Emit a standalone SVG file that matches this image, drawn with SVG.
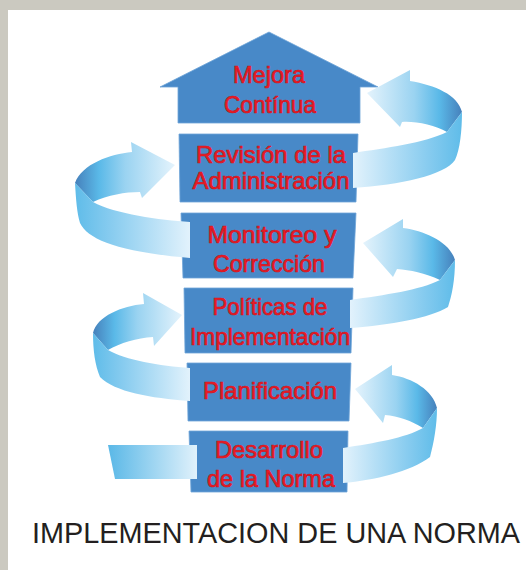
<svg xmlns="http://www.w3.org/2000/svg" width="526" height="570" viewBox="0 0 526 570">
  <defs>
    <style>
      .box { fill: #4889c8; stroke: #6ea5d8; stroke-width: 0.8; }
      .lbl { font-family: "Liberation Sans", Arial, sans-serif; font-size: 24px; fill: #ee1c25; stroke: #d0121c; stroke-width: 0.7; text-anchor: middle; }
      .title { font-family: "Liberation Sans", Arial, sans-serif; font-size: 29px; fill: #231f20; text-anchor: middle; }
    </style>
    <linearGradient id="backR" x1="0" y1="0" x2="1" y2="0">
      <stop offset="0" stop-color="#e4f3fc"/>
      <stop offset="0.5" stop-color="#9ad3f1"/>
      <stop offset="0.76" stop-color="#5ab9e8"/>
      <stop offset="1" stop-color="#4680bb"/>
    </linearGradient>
    <linearGradient id="frontR" x1="0" y1="0" x2="1" y2="0">
      <stop offset="0" stop-color="#e2f2fc"/>
      <stop offset="0.7" stop-color="#86cbef"/>
      <stop offset="1" stop-color="#5fbce9"/>
    </linearGradient>
    <linearGradient id="backL" x1="1" y1="0" x2="0" y2="0">
      <stop offset="0" stop-color="#e4f3fc"/>
      <stop offset="0.5" stop-color="#9ad3f1"/>
      <stop offset="0.76" stop-color="#5ab9e8"/>
      <stop offset="1" stop-color="#4680bb"/>
    </linearGradient>
    <linearGradient id="frontL" x1="1" y1="0" x2="0" y2="0">
      <stop offset="0" stop-color="#e2f2fc"/>
      <stop offset="0.7" stop-color="#86cbef"/>
      <stop offset="1" stop-color="#5fbce9"/>
    </linearGradient>
    <linearGradient id="tail" x1="0" y1="0" x2="1" y2="0">
      <stop offset="0" stop-color="#5ab8e7"/>
      <stop offset="1" stop-color="#e0f1fb"/>
    </linearGradient>
  </defs>

  <rect x="0" y="0" width="526" height="570" fill="#cbc9c0"/>
  <rect x="8" y="10" width="518" height="560" fill="#ffffff"/>

  <g id="node-mejora">
    <polygon class="box" points="269,32 378,87 360,87 360,123 178,123 178,87 160,87"/>
    <text class="lbl" x="269" y="83" textLength="72" lengthAdjust="spacingAndGlyphs">Mejora</text>
    <text class="lbl" x="270" y="113" textLength="92" lengthAdjust="spacingAndGlyphs">Contínua</text>
  </g>
  <g id="node-revision">
    <polygon class="box" points="179,134 358,134 356,202 180,202"/>
    <text class="lbl" x="271" y="163" textLength="150" lengthAdjust="spacingAndGlyphs">Revisión de la</text>
    <text class="lbl" x="271" y="189" textLength="157" lengthAdjust="spacingAndGlyphs">Administración</text>
  </g>
  <g id="node-monitoreo">
    <polygon class="box" points="181,213 356,213 353,278 183,278"/>
    <text class="lbl" x="272" y="243" textLength="129" lengthAdjust="spacingAndGlyphs">Monitoreo y</text>
    <text class="lbl" x="269" y="272" textLength="112" lengthAdjust="spacingAndGlyphs">Corrección</text>
  </g>
  <g id="node-politicas">
    <polygon class="box" points="184,288 353,288 351,353 185,353"/>
    <text class="lbl" x="270" y="315" textLength="115" lengthAdjust="spacingAndGlyphs">Políticas de</text>
    <text class="lbl" x="270" y="345" textLength="160" lengthAdjust="spacingAndGlyphs">Implementación</text>
  </g>
  <g id="node-planificacion">
    <polygon class="box" points="187,363 351,363 349,421 188,421"/>
    <text class="lbl" x="270" y="399" textLength="134" lengthAdjust="spacingAndGlyphs">Planificación</text>
  </g>
  <g id="node-desarrollo">
    <polygon class="box" points="189,431 348,431 347,492 191,492"/>
    <text class="lbl" x="269" y="458" textLength="108" lengthAdjust="spacingAndGlyphs">Desarrollo</text>
    <text class="lbl" x="271" y="487" textLength="128" lengthAdjust="spacingAndGlyphs">de la Norma</text>
  </g>

  <g id="connectors">
    <!-- Desarrollo tail -->
    <polygon fill="url(#tail)" points="108,445 197,445 197,479 115,479"/>
    <!-- Desarrollo -> Planificacion (right) -->
    <path fill="url(#backR)" d="M355,389 L392,365 L392,375 C412,378 433,390 437,408 L423,428 C412,421 398,416 385,415 L383,423 Z"/>
    <path fill="url(#frontR)" d="M343,448 C375,443 405,438 423,428 L437,408 C437,425 434,442 430,457 C410,472 375,480 343,483 Z"/>
    <!-- Planificacion -> Politicas (left) -->
    <path fill="url(#backL)" d="M182,315 L143,293 L144,304 C122,306 97,316 93,333 L108,350 C120,343 137,338 153,337 L154,346 Z"/>
    <path fill="url(#frontL)" d="M190,368 C160,366 125,360 108,350 L93,333 C93,350 95,365 100,377 C115,392 150,398 190,401 Z"/>
    <!-- Politicas -> Monitoreo (right) -->
    <path fill="url(#backR)" d="M363,243 L403,219 L403,228 C425,231 450,242 455,260 L440,280 C425,273 410,270 397,269 L393,277 Z"/>
    <path fill="url(#frontR)" d="M350,300 C385,295 420,290 440,280 L455,260 C455,280 452,295 448,307 C430,318 390,325 350,328 Z"/>
    <!-- Monitoreo -> Revision (left) -->
    <path fill="url(#backL)" d="M175,165 L131,142 L132,152 C110,154 82,164 75,183 L93,202 C108,195 125,192 140,192 L142,198 Z"/>
    <path fill="url(#frontL)" d="M190,222 C160,220 115,214 93,202 L75,183 C76,200 77,213 80,223 C88,240 120,252 190,258 Z"/>
    <!-- Revision -> Mejora (right) -->
    <path fill="url(#backR)" d="M367,93 L410,70 L410,81 C435,85 458,95 462,112 L447,132 C435,125 415,121 402,122 L400,127 Z"/>
    <path fill="url(#frontR)" d="M353,153 C385,148 425,143 447,132 L462,112 C462,130 460,150 455,160 C445,175 400,185 353,188 Z"/>
  </g>

  <text class="title" x="276" y="543" textLength="488" lengthAdjust="spacingAndGlyphs">IMPLEMENTACION DE UNA NORMA</text>
</svg>
